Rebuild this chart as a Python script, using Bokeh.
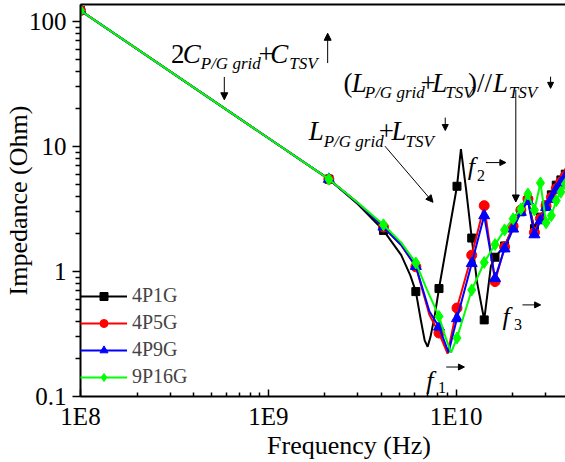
import math
from bokeh.plotting import figure
from bokeh.models import (Label, Arrow, NormalHead, Legend, LegendItem, LogAxis,
                          FixedTicker, CustomJSTickFormatter, ColumnDataSource, Range1d)
from bokeh.embed import file_html
from bokeh.resources import INLINE

# ---------------- data (frequency in GHz, impedance in Ohm) ----------------
freq_ghz = [0.1, 2.1, 4.1, 6.1, 8.1, 10.1, 12.1, 14.1, 16.1, 18.1, 20.1,
            22.1, 24.1, 26.1, 28.1, 30.1, 32.1, 34.1, 36.1, 38.1, 40.1]

z_4p1g = [122, 5.47, 2.13, 0.69, 0.73, 4.8, 1.85, 0.41, 1.3, 1.6, 2.25,
          3.0, 3.7, 2.2, 2.72, 3.4, 4.1, 4.9, 5.4, 6.0, 6.6]
z_4p5g = [122, 5.47, 2.27, 1.09, 0.322, 0.51, 1.35, 3.36, 0.83, 1.57, 2.3,
          3.1, 3.8, 2.05, 2.65, 3.35, 3.9, 4.6, 5.2, 5.8, 6.4]
z_4p9g = [122, 5.47, 2.27, 1.1, 0.36, 0.42, 1.16, 2.8, 0.88, 1.52, 2.19,
          2.98, 3.68, 1.97, 2.55, 3.26, 3.8, 4.5, 5.1, 5.7, 6.3]
z_9p16g = [122, 5.47, 2.36, 1.17, 0.437, 0.294, 0.711, 1.18, 1.64, 2.15, 2.64,
           3.16, 4.16, 3.1, 5.1, 2.45, 2.8, 3.68, 4.31, 5.0, 5.6]

# extra curve points read between the marked samples (resonance dips/peaks)
cf_4p1g = [3.0, 5.1, 5.7, 6.5, 6.8, 7.05, 7.3, 7.7, 9.0, 10.6, 11.3, 12.9, 15.3]
cz_4p1g = [3.45, 1.35, 0.93, 0.40, 0.28, 0.25, 0.30, 0.45, 1.8, 9.5, 4.5, 0.83, 1.1]
cf_4p5g = [3.0, 5.1, 7.2, 9.0]
cz_4p5g = [3.52, 1.62, 0.45, 0.22]
cf_4p9g = [3.0, 5.1, 7.2, 9.1]
cz_4p9g = [3.52, 1.63, 0.48, 0.225]
cf_9p16g = [3.0, 5.1, 6.95, 8.7, 9.4]
cz_9p16g = [3.55, 1.70, 0.73, 0.31, 0.224]

names = ["4P1G", "4P5G", "4P9G", "9P16G"]
colors = ["#000000", "#ff0000", "#0000ff", "#00ff00"]
markers = ["square", "circle", "triangle", "diamond"]
msizes = [8, 10, 11, 12]

x_ticks = [1e8, 1e9, 1e10]
y_ticks = [0.1, 1, 10, 100]

# ---------------- layout helpers (reference pixel -> data) ----------------
def fx(px):
    return 1e8 * 10 ** ((px - 77) / 189.0)

def fy(py):
    return 0.1 * 10 ** ((399 - py) / 126.0)

SERIF = "Liberation Serif"

p = figure(width=565, height=462, x_axis_type="log", y_axis_type="log",
           x_range=Range1d(fx(77), fx(565)), y_range=Range1d(fy(399), fy(4)),
           output_backend="svg", toolbar_location=None,
           min_border_left=77, min_border_right=0, min_border_top=4,
           min_border_bottom=63)
p.outline_line_color = None
p.xgrid.visible = False
p.ygrid.visible = False
p.background_fill_color = "white"

# axes
minor_x = [k * 10 ** e for e in range(8, 11) for k in range(2, 10)]
minor_y = [k * 10 ** e for e in range(-1, 3) for k in range(2, 10)]
p.xaxis.ticker = FixedTicker(ticks=x_ticks, minor_ticks=minor_x)
p.yaxis.ticker = FixedTicker(ticks=y_ticks, minor_ticks=minor_y)
p.xaxis.formatter = CustomJSTickFormatter(code="return '1E' + Math.round(Math.log10(tick));")
p.yaxis.formatter = CustomJSTickFormatter(
    code="const e = Math.round(Math.log10(tick)); return ['0.1','1','10','100','1000'][e+1];")
for ax in (p.xaxis[0], p.yaxis[0]):
    ax.axis_line_width = 2
    ax.major_tick_line_width = 1.5
    ax.minor_tick_line_width = 1.5
    ax.major_label_text_font = SERIF
    ax.major_label_text_font_size = "25px"
    ax.major_label_text_color = "black"
    ax.axis_label_text_font = SERIF
    ax.axis_label_text_font_size = "26px"
    ax.axis_label_text_font_style = "normal"
    ax.axis_label_text_color = "black"
p.xaxis.major_tick_in = 7
p.xaxis.major_tick_out = 0
p.xaxis.minor_tick_in = 4
p.xaxis.minor_tick_out = 0
p.xaxis.major_label_standoff = 6
p.xaxis.axis_label = "\u2003\u2003Frequency (Hz)"
p.xaxis.axis_label_standoff = -2
p.yaxis.major_tick_in = 0
p.yaxis.major_tick_out = 8
p.yaxis.minor_tick_in = 0
p.yaxis.minor_tick_out = 5
p.yaxis.major_label_standoff = 6
p.yaxis.axis_label = "Impedance (Ohm)"
p.yaxis.axis_label_standoff = -7

# top spine (axis line only)
top = LogAxis(ticker=FixedTicker(ticks=[]), axis_line_width=2,
              major_tick_in=0, major_tick_out=0, minor_tick_in=0, minor_tick_out=0,
              major_label_text_font_size="0px")
p.add_layout(top, "above")

# ---------------- series ----------------
grid_z = [z_4p1g, z_4p5g, z_4p9g, z_9p16g]
extra_f = [cf_4p1g, cf_4p5g, cf_4p9g, cf_9p16g]
extra_z = [cz_4p1g, cz_4p5g, cz_4p9g, cz_9p16g]

items = []
for name, zg, ef, ez, col, mk, ms in zip(names, grid_z, extra_f, extra_z, colors, markers, msizes):
    pts = sorted(zip(freq_ghz + ef, zg + ez))
    line_src = ColumnDataSource(dict(f=[a * 1e9 for a, _ in pts], z=[b for _, b in pts]))
    mk_src = ColumnDataSource(dict(f=[a * 1e9 for a in freq_ghz], z=zg))
    r1 = p.line("f", "z", source=line_src, line_color=col, line_width=2)
    r2 = p.scatter("f", "z", source=mk_src, marker=mk, size=ms,
                   fill_color=col, line_color=col)
    items.append(LegendItem(label=name, renderers=[r1, r2]))

legend = Legend(items=items, location=(0, 8), glyph_width=47, glyph_height=20,
                label_height=20, spacing=4, padding=3, margin=0, label_standoff=5,
                label_text_font=SERIF, label_text_font_size="20px",
                border_line_color=None, background_fill_alpha=0)
p.add_layout(legend)

# ---------------- annotation texts ----------------
def txt(px, py, s, size, italic=False):
    p.add_layout(Label(x=fx(px), y=fy(py), text=s, text_font=SERIF,
                       text_font_size=f"{size}px",
                       text_font_style="italic" if italic else "normal",
                       text_align="left", text_baseline="alphabetic",
                       text_color="black"))

def arrow(x0, y0, x1, y1, size=7):
    p.add_layout(Arrow(x_start=fx(x0), y_start=fy(y0), x_end=fx(x1), y_end=fy(y1),
                       line_color="black", line_width=1,
                       end=NormalHead(size=size, fill_color="black", line_color="black")))

# 2C_{P/G grid}+C_{TSV}
txt(168, 54, "2", 27)
txt(180, 54, "C", 27, italic=True)
txt(198, 63, "P/G grid", 17, italic=True)
txt(256, 54, "+", 27)
txt(268, 54, "C", 27, italic=True)
txt(287, 63, "TSV", 17, italic=True)
arrow(325.7, 63, 325.7, 33)
arrow(221.7, 77, 221.7, 100)

# (L_{P/G grid}+L_{TSV})//L_{TSV}
txt(341.7, 83.3, "(", 27)
txt(350, 83.3, "L", 27, italic=True)
txt(363, 93, "P/G grid", 17, italic=True)
txt(419, 83.3, "+", 27)
txt(431, 83.3, "L", 27, italic=True)
txt(444, 93, "TSV", 17, italic=True)
txt(467, 83.3, ")//", 27)
txt(492, 83.3, "L", 27, italic=True)
txt(508, 93, "TSV", 17, italic=True)
arrow(550, 76.7, 550, 88.5, size=6)
arrow(515, 90, 515, 203)

# L_{P/G grid}+L_{TSV}
txt(306.7, 131.7, "L", 27, italic=True)
txt(321.7, 141.7, "P/G grid", 17, italic=True)
txt(377, 131.7, "+", 27)
txt(390, 131.7, "L", 27, italic=True)
txt(404, 141.7, "TSV", 17, italic=True)
arrow(444, 118, 444, 131, size=6)
arrow(383.3, 146.7, 431.7, 203.3)

# f labels
txt(466.7, 167, "f", 26, italic=True)
txt(476, 176, "2", 16)
arrow(485, 163.3, 505, 163.3, size=6)
txt(501.7, 318, "f", 26, italic=True)
txt(513.3, 326, "3", 16)
arrow(521.7, 306.7, 540, 306.7, size=6)
txt(425, 383, "f", 26, italic=True)
txt(436.7, 390, "1", 16)
arrow(445, 369.3, 463.3, 369.3, size=6)

open("out.html", "w").write(file_html(p, INLINE))
